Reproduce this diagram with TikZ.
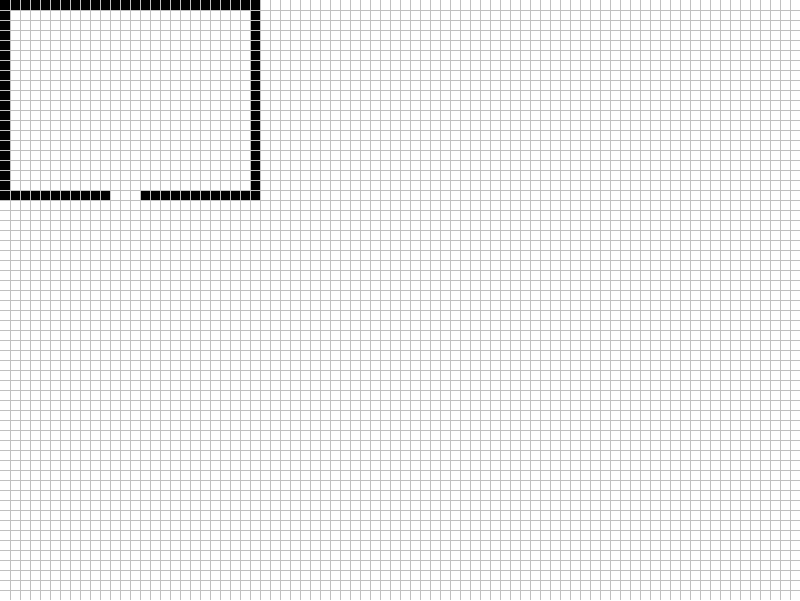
\documentclass[tikz,border=0pt]{standalone}
\definecolor{gridgray}{RGB}{192,192,192}
\tikzset{
  wallcell/.style={fill=black},
  gridline/.style={draw=gridgray, line width=0.2mm}
}
\begin{document}
\begin{tikzpicture}[x=2mm,y=-2mm]
\useasboundingbox (0,0) rectangle (80,60);
\fill[white] (0,0) rectangle (80,60);
% walls
\foreach \i in {0,...,25} {\fill[wallcell] (\i,0) rectangle ++(1,1);}
\foreach \j in {1,...,19} {\fill[wallcell] (0,\j) rectangle ++(1,1); \fill[wallcell] (25,\j) rectangle ++(1,1);}
\foreach \i in {1,...,10} {\fill[wallcell] (\i,19) rectangle ++(1,1);}
\foreach \i in {14,...,24} {\fill[wallcell] (\i,19) rectangle ++(1,1);}
% grid
\foreach \i in {1,...,79} {\draw[gridline] (\i,0) -- (\i,60);}
\foreach \j in {1,...,59} {\draw[gridline] (0,\j) -- (80,\j);}
\end{tikzpicture}
\end{document}
